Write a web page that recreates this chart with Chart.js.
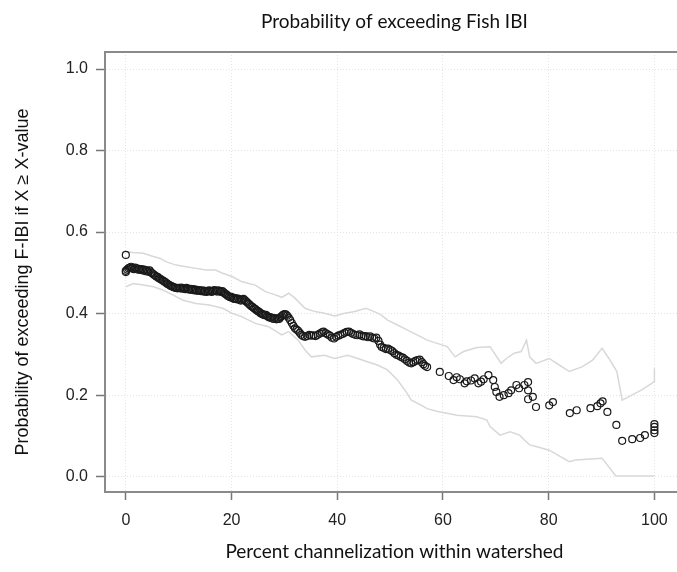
<!DOCTYPE html>
<html>
<head>
<meta charset="utf-8">
<script src="https://cdn.jsdelivr.net/npm/chart.js@4.4.1/dist/chart.umd.min.js"></script>
<style>
  html, body { margin: 0; padding: 0; background: #fff; overflow: hidden; }
  #wrap { width: 689px; height: 572px; }
</style>
</head>
<body>
<div id="wrap"><canvas id="probChart" width="689" height="572"></canvas></div>
<script>
// Observed probability points (percent channelization vs probability)
const pointX = [
  0, 0,
  0, 0.25, 0.5, 0.75, 1, 1.25, 1.5, 1.75, 2, 2.25, 2.5, 2.75, 3, 3.25, 3.5, 3.75, 4, 4.25, 4.5, 4.75,
  5, 5.25, 5.5, 5.75, 6, 6.25, 6.5, 6.75, 7, 7.25, 7.5, 7.75, 8, 8.25, 8.5, 8.75, 9, 9.25, 9.5, 9.75, 10,
  10.25, 10.5, 10.75, 11, 11.25, 11.5, 11.75, 12, 12.25, 12.5, 12.75, 13, 13.25, 13.5, 13.75, 14,
  14.25, 14.5, 14.75, 15, 15.25, 15.5, 15.75, 16, 16.25, 16.5, 16.75, 17, 17.25, 17.5, 17.75, 18,
  18.25, 18.5, 18.75, 19, 19.25, 19.5, 19.75, 20,
  20.25, 20.5, 20.75, 21, 21.25, 21.5, 21.75, 22, 22.25, 22.5, 22.75, 23, 23.25, 23.5, 23.75, 24,
  24.25, 24.5, 24.75, 25, 25.25, 25.5, 25.75, 26, 26.25, 26.5, 26.75, 27, 27.25, 27.5, 27.75, 28,
  28.25, 28.5, 28.75, 29, 29.25, 29.5, 29.75, 30, 30.25, 30.5,
  30.8, 31.1, 31.4, 31.7, 32.0, 32.3, 32.6, 32.9, 33.2, 33.5, 33.9, 34.3, 34.7, 35.1, 35.5, 35.9,
  36.3, 36.7, 37.1, 37.4, 37.8, 38.2, 38.6, 39.0, 39.4, 39.8, 40.2, 40.6, 41.0, 41.4, 41.8, 42.2,
  42.6, 43.0, 43.4, 43.8, 44.2, 44.6, 45.0, 45.4, 45.8, 46.2, 46.6, 47.0, 47.4, 47.8, 48.1, 48.4,
  48.8, 49.2, 49.6, 50.0, 50.4, 50.8, 51.2, 51.6, 52.0, 52.4, 52.8, 53.2, 53.6, 54.0, 54.4, 54.8,
  55.2, 55.6, 56.0, 56.3, 56.6, 57.0,
  59.4, 61.1, 62.0, 62.6, 63.2, 64.1, 64.5, 65.3, 66.0, 66.7, 67.2, 67.7, 68.6, 69.5, 69.8, 70.1,
  70.7, 71.5, 72.4, 72.9, 73.9, 74.4, 75.4, 76.1, 76.1, 76.1, 77.0, 77.6, 80.1, 80.8, 84.0, 85.3,
  87.9, 89.2, 89.8, 90.2, 91.1, 92.8, 93.9, 95.8, 97.3, 98.2, 100, 100, 100, 100
];
const pointY = [
  0.544, 0.505,
  0.502, 0.508, 0.511, 0.513, 0.515, 0.512, 0.509, 0.513, 0.511, 0.508, 0.510, 0.507, 0.509, 0.506, 0.508, 0.504, 0.506, 0.503, 0.506, 0.501,
  0.499, 0.496, 0.494, 0.491, 0.490, 0.487, 0.485, 0.483, 0.481, 0.479, 0.477, 0.474, 0.472, 0.470, 0.468, 0.467, 0.465, 0.464, 0.463, 0.462, 0.463,
  0.462, 0.464, 0.461, 0.462, 0.460, 0.463, 0.460, 0.459, 0.461, 0.458, 0.460, 0.457, 0.459, 0.456, 0.458, 0.457,
  0.455, 0.457, 0.454, 0.456, 0.453, 0.455, 0.457, 0.455, 0.453, 0.456, 0.458, 0.456, 0.454, 0.457, 0.455, 0.453,
  0.455, 0.452, 0.449, 0.447, 0.444, 0.442, 0.440, 0.441,
  0.438, 0.436, 0.438, 0.435, 0.437, 0.434, 0.432, 0.434, 0.436, 0.433, 0.430, 0.427, 0.424, 0.421, 0.418, 0.416,
  0.413, 0.411, 0.408, 0.406, 0.404, 0.401, 0.399, 0.398, 0.396, 0.397, 0.394, 0.392, 0.390, 0.391, 0.388, 0.387,
  0.389, 0.386, 0.388, 0.387, 0.391, 0.394, 0.397, 0.399, 0.398, 0.395,
  0.390, 0.384, 0.377, 0.370, 0.364, 0.361, 0.358, 0.353, 0.348, 0.345, 0.343, 0.345, 0.348, 0.346, 0.347, 0.345,
  0.348, 0.351, 0.354, 0.356, 0.352, 0.349, 0.346, 0.341, 0.339, 0.343, 0.346, 0.348, 0.350, 0.353, 0.355, 0.356,
  0.353, 0.350, 0.348, 0.347, 0.349, 0.346, 0.344, 0.345, 0.342, 0.344, 0.341, 0.339, 0.341, 0.333, 0.324, 0.318,
  0.316, 0.313, 0.314, 0.311, 0.308, 0.303, 0.299, 0.297, 0.294, 0.292, 0.288, 0.284, 0.280, 0.278, 0.281, 0.284,
  0.286, 0.287, 0.281, 0.276, 0.272, 0.269,
  0.257, 0.247, 0.237, 0.244, 0.239, 0.229, 0.234, 0.236, 0.241, 0.229, 0.233, 0.239, 0.249, 0.237, 0.220, 0.208,
  0.196, 0.200, 0.205, 0.212, 0.225, 0.217, 0.225, 0.232, 0.212, 0.190, 0.196, 0.171, 0.175, 0.183, 0.156, 0.163,
  0.168, 0.173, 0.180, 0.185, 0.159, 0.127, 0.088, 0.092, 0.095, 0.102, 0.107, 0.114, 0.122, 0.129
];

// Upper confidence bound
const upperX = [0, 1.4, 3.3, 5.2, 6.4, 7.7, 9.5, 11.4, 13.3, 15.2, 17, 18.3, 20.1, 22, 24.5, 26.4, 28.3, 29.5,
  30.8, 32, 33.9, 35.8, 37.6, 39.5, 41.4, 43.3, 45.4, 47, 48.3, 49.5, 51.4, 53.2, 55.1, 57, 58.9, 60.8,
  62.3, 63.9, 66.4, 68.9, 70.4, 71, 72, 73.5, 74.8, 75.8, 76.4, 77.6, 80.1, 82, 83.9, 86.4, 88.3, 90.1,
  91.4, 92.9, 93.9, 95.1, 97.6, 100, 100];
const upperY = [0.552, 0.550, 0.548, 0.540, 0.536, 0.527, 0.519, 0.515, 0.511, 0.507, 0.507, 0.499, 0.491, 0.478, 0.470, 0.454, 0.446, 0.440,
  0.450, 0.438, 0.413, 0.405, 0.401, 0.394, 0.401, 0.405, 0.413, 0.405, 0.397, 0.384, 0.372, 0.360, 0.348, 0.335, 0.327, 0.319,
  0.294, 0.307, 0.317, 0.319, 0.290, 0.278, 0.290, 0.303, 0.307, 0.335, 0.294, 0.278, 0.290, 0.274, 0.258, 0.270, 0.286, 0.315,
  0.290, 0.258, 0.188, 0.196, 0.213, 0.233, 0.266];

// Lower confidence bound
const lowerX = [0, 1.4, 3.3, 5.2, 7, 8.9, 10.8, 13.3, 15.8, 18.3, 20.1, 22, 24.5, 27, 29.5, 30.8, 32.6, 33.9,
  35.1, 37.6, 39.5, 42, 43.9, 45.7, 47.6, 49.5, 51.4, 53.2, 54, 55.5, 57, 59, 61, 62.6, 66.4, 68.3,
  68.9, 70.8, 72.7, 74.5, 75.4, 76.4, 77.6, 80.1, 83.9, 85.1, 90.1, 90.6, 92.7, 100];
const lowerY = [0.466, 0.474, 0.470, 0.466, 0.458, 0.446, 0.433, 0.425, 0.421, 0.413, 0.401, 0.392, 0.376, 0.368, 0.348, 0.356, 0.335, 0.311,
  0.294, 0.298, 0.290, 0.298, 0.290, 0.282, 0.274, 0.262, 0.237, 0.205, 0.188, 0.178, 0.167, 0.160, 0.155, 0.151, 0.147, 0.139,
  0.123, 0.102, 0.110, 0.102, 0.090, 0.078, 0.074, 0.065, 0.037, 0.041, 0.045, 0.037, 0.002, 0.002];

const xTicks = [0, 20, 40, 60, 80, 100];
const yTicks = [0, 0.2, 0.4, 0.6, 0.8, 1.0];

const toXY = (xs, ys) => xs.map((x, i) => ({ x: x, y: ys[i] }));

// top edge of the plot box
const topFrame = {
  id: 'topFrame',
  afterDraw(chart) {
    const { ctx, chartArea } = chart;
    ctx.save();
    ctx.strokeStyle = '#8a8a8a';
    ctx.lineWidth = 2;
    ctx.beginPath();
    ctx.moveTo(chartArea.left - 1, chartArea.top);
    ctx.lineTo(chartArea.right, chartArea.top);
    ctx.stroke();
    ctx.restore();
  }
};

const gridOpts = {
  color: '#e4e4e4',
  lineWidth: 1,
  tickColor: '#777',
  tickWidth: 1.5,
  tickBorderDash: []
};

new Chart(document.getElementById('probChart').getContext('2d'), {
  type: 'scatter',
  data: {
    datasets: [
      {
        label: 'Probability',
        data: toXY(pointX, pointY),
        pointRadius: 3.5,
        pointBorderWidth: 1.2,
        pointBorderColor: '#1a1a1a',
        pointBackgroundColor: 'rgba(0,0,0,0)',
        order: 0
      },
      {
        type: 'line',
        label: 'Upper',
        data: toXY(upperX, upperY),
        borderColor: '#d8d8d8',
        borderWidth: 1.5,
        pointRadius: 0,
        fill: false,
        tension: 0,
        order: 1
      },
      {
        type: 'line',
        label: 'Lower',
        data: toXY(lowerX, lowerY),
        borderColor: '#d8d8d8',
        borderWidth: 1.5,
        pointRadius: 0,
        fill: false,
        tension: 0,
        order: 1
      }
    ]
  },
  options: {
    responsive: false,
    animation: false,
    layout: { padding: 0 },
    plugins: {
      legend: { display: false },
      tooltip: { enabled: false },
      title: {
        display: true,
        fullSize: false,
        text: 'Probability of exceeding Fish IBI',
        color: '#111',
        font: { family: 'Lato', size: 19, weight: 'normal' },
        padding: { top: 10.6, bottom: 18.6 }
      }
    },
    scales: {
      x: {
        type: 'linear',
        min: -3.94,
        max: 105.56,
        afterFit: s => { s.height = 80; },
        afterBuildTicks: s => { s.ticks = xTicks.map(v => ({ value: v })); },
        grid: Object.assign({}, gridOpts, { tickLength: 8 }),
        border: { color: '#8a8a8a', width: 2, dash: [1, 2] },
        ticks: {
          color: '#222',
          font: { family: 'Liberation Sans', size: 16 },
          padding: 11,
          maxRotation: 0
        },
        title: {
          display: true,
          text: 'Percent channelization within watershed',
          color: '#111',
          font: { family: 'Lato', size: 19 },
          padding: { top: 0, bottom: 9 }
        }
      },
      y: {
        type: 'linear',
        min: -0.0375,
        max: 1.0417,
        afterFit: s => { s.width = 105; },
        afterBuildTicks: s => { s.ticks = yTicks.map(v => ({ value: v })); },
        grid: Object.assign({}, gridOpts, { tickLength: 9 }),
        border: { color: '#8a8a8a', width: 2, dash: [1, 2] },
        ticks: {
          color: '#222',
          font: { family: 'Liberation Sans', size: 16 },
          padding: 8,
          callback: v => v.toFixed(1)
        },
        title: {
          display: true,
          text: 'Probability of exceeding F-IBI if X \u2265 X-value    ',
          color: '#111',
          font: { family: 'Liberation Sans', size: 18 },
          padding: { top: 12, bottom: 0 }
        }
      }
    }
  },
  plugins: [topFrame]
});
</script>
</body>
</html>
